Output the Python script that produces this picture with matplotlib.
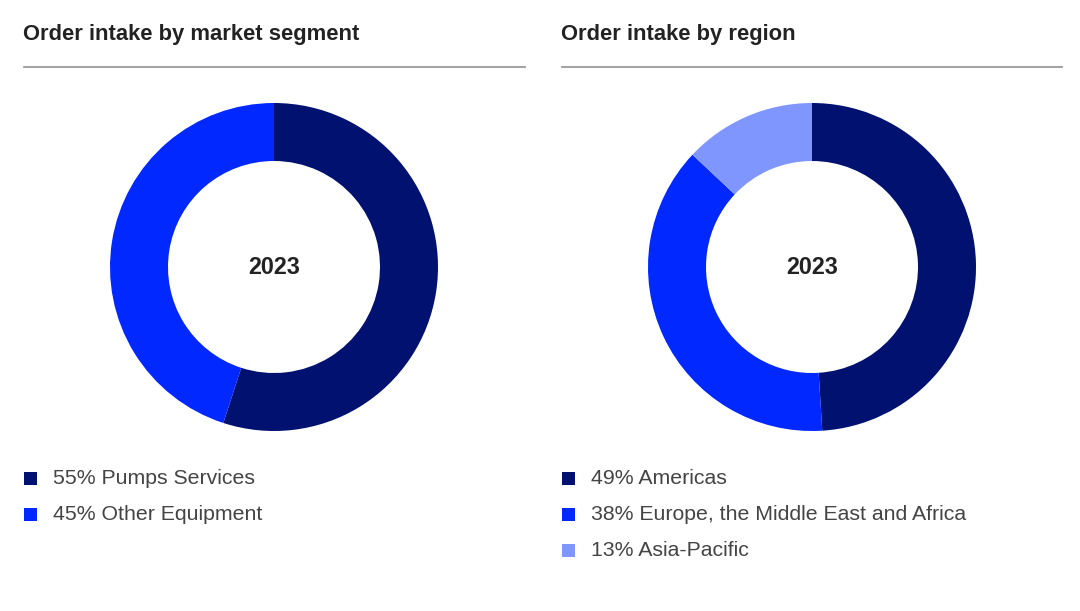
import matplotlib
matplotlib.use("Agg")
import matplotlib.pyplot as plt
from matplotlib.patches import Rectangle
from matplotlib.lines import Line2D

plt.rcParams['font.family'] = ['Liberation Sans', 'DejaVu Sans']

# Data
seg_labels = ["Pumps Services", "Other Equipment"]
seg_values = [55, 45]
reg_labels = ["Americas", "Europe, the Middle East and Africa", "Asia-Pacific"]
reg_values = [49, 38, 13]
center_label = "2023"
titles = ["Order intake by market segment", "Order intake by region"]

colors = ["#001170", "#0028FF", "#8096FF"]

W, H = 1080, 611
fig = plt.figure(figsize=(W / 100, H / 100), dpi=100)
fig.patch.set_facecolor("white")

def fx(px):
    return px / W

def fy(py):
    return 1 - py / H

R_OUT = 164
R_IN = 106

panels = [
    (24, 525, 274, seg_labels, seg_values),
    (562, 1062, 812, reg_labels, reg_values),
]

for i, (x0, x1, cx, labels, values) in enumerate(panels):
    # title
    fig.text(fx(x0 - 1), fy(40), titles[i], fontsize=15.8, fontweight="bold",
             color="#222222", ha="left", va="baseline")
    fig.add_artist(Line2D([fx(x0), fx(x1)], [fy(67), fy(67)], color="#9a9a9a", lw=1.3))

    # donut
    cy = 267
    ax = fig.add_axes([fx(cx - R_OUT), fy(cy + R_OUT), (2 * R_OUT) / W, (2 * R_OUT) / H])
    ax.pie(values, colors=colors[:len(values)], startangle=90, counterclock=False,
           radius=1, wedgeprops=dict(width=(R_OUT - R_IN) / R_OUT, edgecolor="none"))
    ax.set_xlim(-1, 1)
    ax.set_ylim(-1, 1)
    ax.set_aspect("equal")
    ax.axis("off")
    ax.text(0, 0, center_label, ha="center", va="center", fontsize=16.8,
            fontweight="bold", color="#222222")

    # legend
    for j, (lab, val) in enumerate(zip(labels, values)):
        yy = 478 + 36 * j
        fig.add_artist(Rectangle((fx(x0), fy(yy + 6.5)), 13 / W, 13 / H,
                                 facecolor=colors[j], edgecolor="none"))
        fig.text(fx(x0 + 29), fy(yy + 6.5), f"{val}% {lab}", fontsize=15.3,
                 color="#444444", ha="left", va="baseline")

fig.savefig("out.png", dpi=100, facecolor="white")
